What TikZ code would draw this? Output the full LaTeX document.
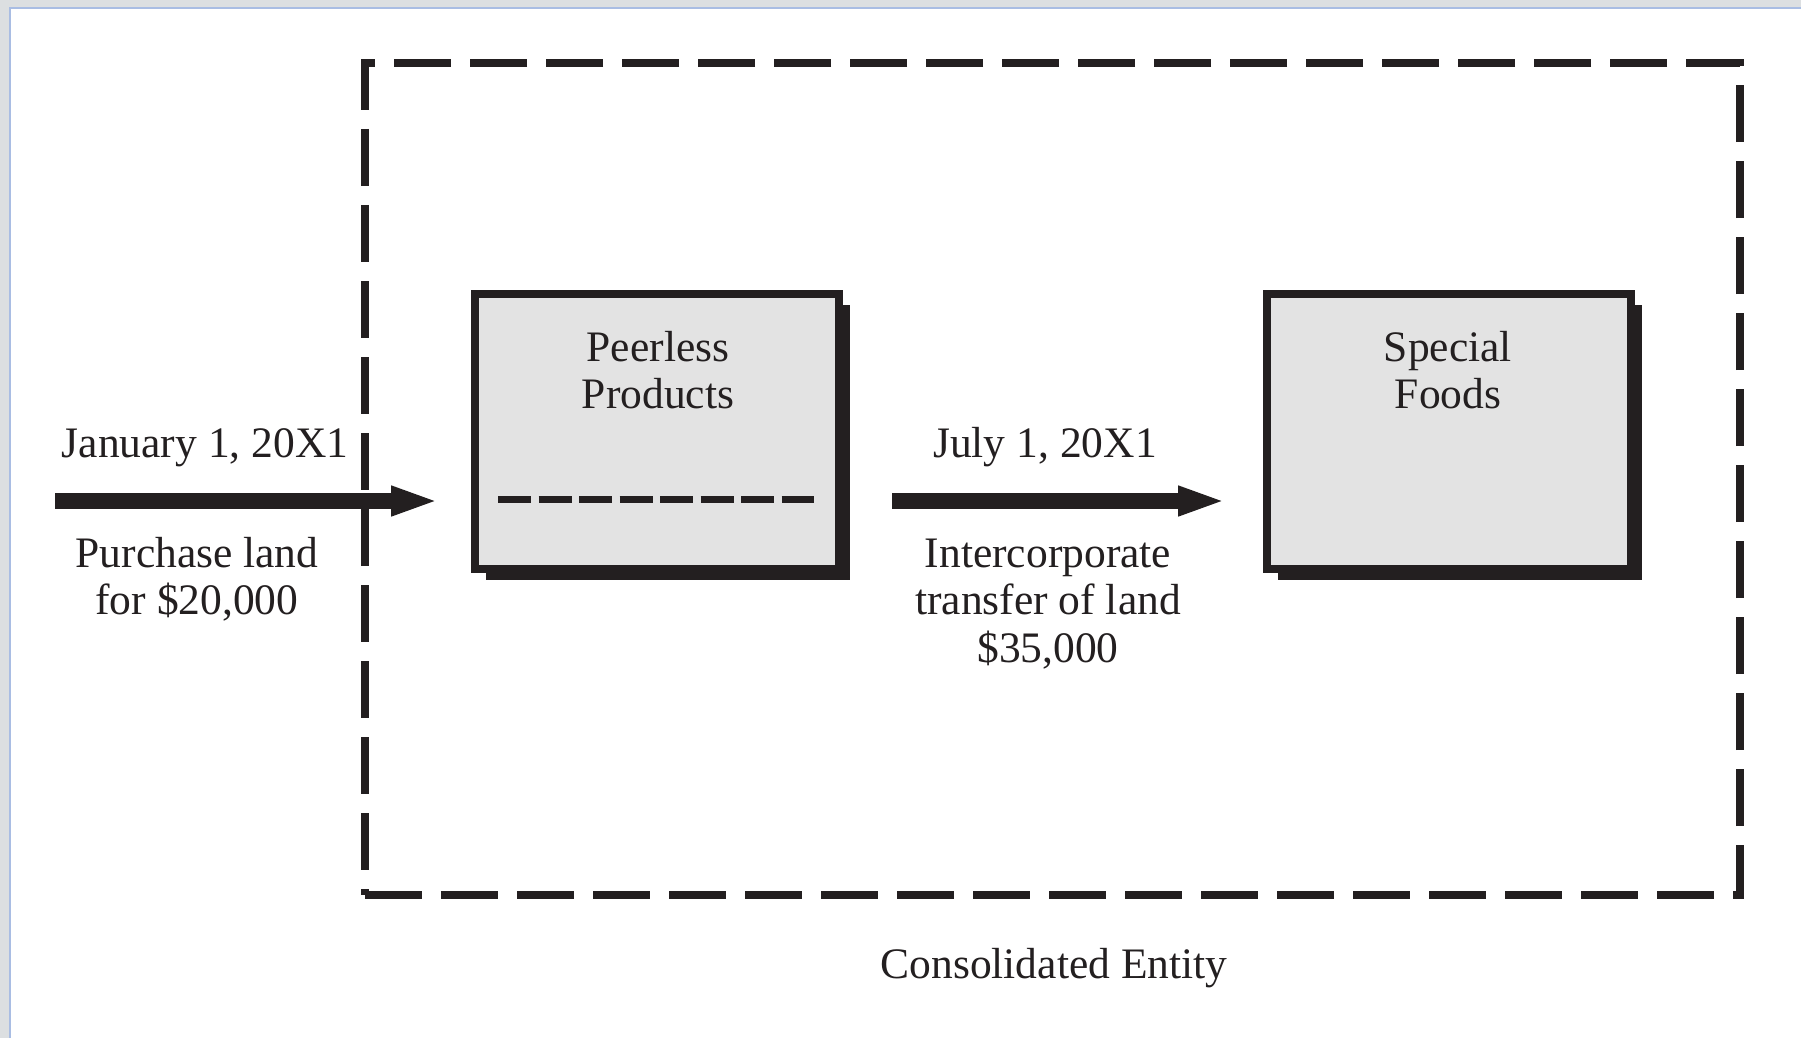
\documentclass[tikz,border=0pt]{standalone}
\usepackage{fontspec}
\setmainfont{Liberation Serif}
\usepackage{tikz}
\usepackage{xcolor}
\usetikzlibrary{arrows.meta}
\usetikzlibrary{shadows}
\definecolor{inkColor}{HTML}{231F20}
\definecolor{boxFillColor}{HTML}{E3E3E3}
\definecolor{frameBgColor}{HTML}{DCDFE1}
\definecolor{frameLineColor}{HTML}{A9BDE3}
\def\textA{January 1, 20X1}
\def\textB{Purchase land\\for \$20,000}
\def\textC{Peerless\\Products}
\def\textD{July 1, 20X1}
\def\textE{Intercorporate\\transfer of land\\\$35,000}
\def\textF{Special\\Foods}
\def\textG{Consolidated Entity}

\begin{document}
\begin{tikzpicture}[x=1bp,y=-1bp,
  labelText/.style={font=\fontsize{43.5bp}{47.5bp}\selectfont, text=inkColor, inner sep=0pt, align=center},
  firmBox/.style={draw=inkColor, line width=8bp, fill=boxFillColor, minimum width=364bp,
    minimum height=275bp, inner sep=0pt,
    drop shadow={shadow xshift=11bp, shadow yshift=-11bp, fill=inkColor, opacity=1}},
  entityBox/.style={draw=inkColor, line width=8bp, dash pattern=on 57bp off 19bp,
    minimum width=1375bp, minimum height=832bp, inner sep=0pt},
  flowArrow/.style={draw=inkColor, line width=16bp, -{Triangle[length=48bp, width=27bp]}},
  dividerLine/.style={draw=inkColor, line width=7bp, dash pattern=on 33bp off 7.5bp}]

% background
\useasboundingbox (0, 0) rectangle (1801, 1038);
\fill[frameBgColor] (0, 0) rectangle (1801, 1038);
\fill[white] (10, 7.5) rectangle (1801, 1038);
\draw[frameLineColor, line width=2bp] (10, 1038) -- (10, 7.5) -- (1801, 7.5);

% entity layer
\node[entityBox] (entity) at (1052.5, 479) {};
\node[labelText, anchor=base] (entityName) at (1054, 978) {\textG};

% firm layer
\begin{scope}
\node[firmBox] (peerless) at (657, 431) {};
\node[labelText] (peerlessName) at (658, 370) {\textC};
\draw[dividerLine] (498, 499) -- (814, 499);

\node[firmBox] (special) at (1449, 431) {};
\node[labelText] (specialName) at (1448, 370) {\textF};
\end{scope}

% arrow layer
\begin{scope}
\coordinate (buyStart) at (55, 501);
\draw[flowArrow, shorten >=32bp] (buyStart) -- (peerless.west |- buyStart);
\node[labelText, anchor=base] (buyDate) at (205, 457) {\textA};
\node[labelText] (buyNote) at (197, 579) {\textB};

\draw[flowArrow, shorten <=49bp, shorten >=37bp] (peerless.east |- buyStart) -- (special.west |- buyStart);
\node[labelText, anchor=base] (sellDate) at (1045, 457) {\textD};
\node[labelText] (sellNote) at (1048, 604) {\textE};
\end{scope}

\end{tikzpicture}
\end{document}
